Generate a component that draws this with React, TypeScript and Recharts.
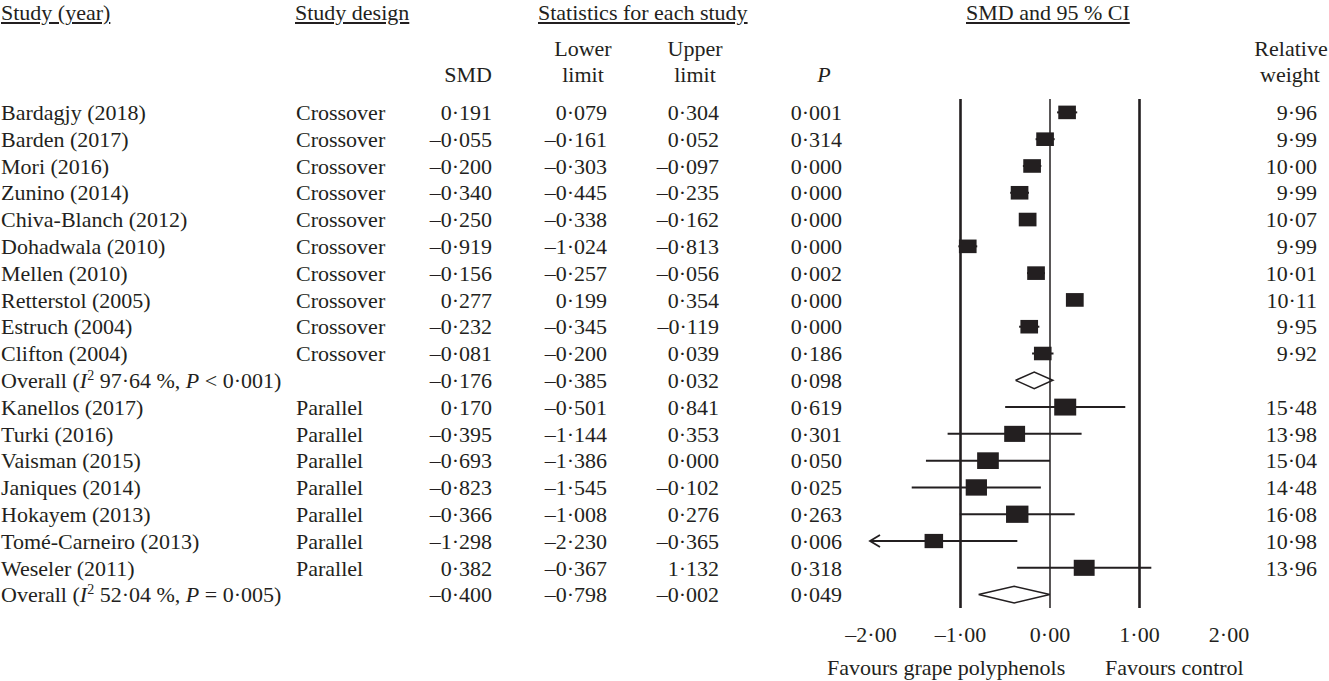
import React from 'react';
import { ScatterChart, Scatter, XAxis, YAxis, ErrorBar, ReferenceLine } from 'recharts';

const FONT = '"Liberation Serif", "Times New Roman", serif';
const INK = '#231f20';
const FS = 22;

const studyNames = [
  'Bardagjy (2018)', 'Barden (2017)', 'Mori (2016)', 'Zunino (2014)', 'Chiva-Blanch (2012)',
  'Dohadwala (2010)', 'Mellen (2010)', 'Retterstol (2005)', 'Estruch (2004)', 'Clifton (2004)',
  'Overall', 'Kanellos (2017)', 'Turki (2016)', 'Vaisman (2015)', 'Janiques (2014)',
  'Hokayem (2013)', 'Tomé-Carneiro (2013)', 'Weseler (2011)', 'Overall',
];
const designs = [
  'Crossover', 'Crossover', 'Crossover', 'Crossover', 'Crossover', 'Crossover', 'Crossover',
  'Crossover', 'Crossover', 'Crossover', '', 'Parallel', 'Parallel', 'Parallel', 'Parallel',
  'Parallel', 'Parallel', 'Parallel', '',
];
const smd = [0.191, -0.055, -0.2, -0.34, -0.25, -0.919, -0.156, 0.277, -0.232, -0.081, -0.176,
  0.17, -0.395, -0.693, -0.823, -0.366, -1.298, 0.382, -0.4];
const lower = [0.079, -0.161, -0.303, -0.445, -0.338, -1.024, -0.257, 0.199, -0.345, -0.2, -0.385,
  -0.501, -1.144, -1.386, -1.545, -1.008, -2.23, -0.367, -0.798];
const upper = [0.304, 0.052, -0.097, -0.235, -0.162, -0.813, -0.056, 0.354, -0.119, 0.039, 0.032,
  0.841, 0.353, 0.0, -0.102, 0.276, -0.365, 1.132, -0.002];
const pValues = [0.001, 0.314, 0.0, 0.0, 0.0, 0.0, 0.002, 0.0, 0.0, 0.186, 0.098,
  0.619, 0.301, 0.05, 0.025, 0.263, 0.006, 0.318, 0.049];
const weights: (number | null)[] = [9.96, 9.99, 10.0, 9.99, 10.07, 9.99, 10.01, 10.11, 9.95, 9.92, null,
  15.48, 13.98, 15.04, 14.48, 16.08, 10.98, 13.96, null];
const overallI2 = ['97·64', '52·04'];
const overallP = ['< 0·001', '= 0·005'];

const xTicks = [-2, -1, 0, 1, 2];
const xTickLabels = ['–2·00', '–1·00', '0·00', '1·00', '2·00'];
const XMIN = -2;
const XMAX = 2;

const rowIdx = studyNames.map((_, i) => i);
const overallRows = rowIdx.filter((i) => weights[i] == null);

const fmt = (v: number, d: number) => (v < 0 ? '–' : '') + Math.abs(v).toFixed(d).replace('.', '·');

const studyPoints = rowIdx
  .filter((i) => weights[i] != null)
  .map((i) => ({
    x: smd[i],
    y: i,
    w: weights[i] as number,
    err: [smd[i] - Math.max(lower[i], XMIN), upper[i] - smd[i]],
  }));
const arrowPoints = rowIdx
  .filter((i) => weights[i] != null && lower[i] < XMIN)
  .map((i) => ({ x: XMIN, y: i }));
const DIAMOND_HALF = 0.31;
const diamonds = overallRows.map((i) => [
  { x: lower[i], y: i },
  { x: smd[i], y: i - DIAMOND_HALF },
  { x: upper[i], y: i },
  { x: smd[i], y: i + DIAMOND_HALF },
  { x: lower[i], y: i },
]);

const Square = (p: any) => {
  const h = 4.3 * Math.sqrt(p.payload.w);
  const w = h * 1.3;
  return <rect x={p.cx - w / 2} y={p.cy - h / 2} width={w} height={h} fill={INK} />;
};
const Arrow = (p: any) => (
  <path d={`M${p.cx + 9},${p.cy - 6} L${p.cx - 1},${p.cy} L${p.cx + 9},${p.cy + 6}`} stroke={INK} strokeWidth={1.8} fill="none" />
);
const Nothing = () => <g />;

const RowTick = (props: any) => {
  const i = props.payload.value as number;
  const y = props.y;
  const common = { fontFamily: FONT, fontSize: FS, fill: INK, dy: '0.35em' } as any;
  const oi = overallRows.indexOf(i);
  return (
    <g>
      {oi >= 0 ? (
        <text x={1} y={y} {...common}>
          Overall (<tspan fontStyle="italic">I</tspan>
          <tspan dy={-8} fontSize={14}>2</tspan>
          <tspan dy={8}>{` ${overallI2[oi]} %, `}</tspan>
          <tspan fontStyle="italic">P</tspan>
          {` ${overallP[oi]})`}
        </text>
      ) : (
        <text x={1} y={y} {...common}>{studyNames[i]}</text>
      )}
      <text x={296} y={y} {...common}>{designs[i]}</text>
      <text x={492} y={y} textAnchor="end" {...common}>{fmt(smd[i], 3)}</text>
      <text x={607} y={y} textAnchor="end" {...common}>{fmt(lower[i], 3)}</text>
      <text x={719} y={y} textAnchor="end" {...common}>{fmt(upper[i], 3)}</text>
      <text x={842} y={y} textAnchor="end" {...common}>{fmt(pValues[i], 3)}</text>
      {weights[i] != null && (
        <text x={1317} y={y} textAnchor="end" {...common}>{fmt(weights[i] as number, 2)}</text>
      )}
    </g>
  );
};

const Label = ({ cx, left, right, cy, children, underline, italic }: any) => {
  const style: React.CSSProperties = {
    position: 'absolute',
    top: cy - 13,
    lineHeight: '26px',
    fontFamily: FONT,
    fontSize: FS,
    color: INK,
    whiteSpace: 'nowrap',
    textDecoration: underline ? 'underline' : 'none',
    fontStyle: italic ? 'italic' : 'normal',
  };
  if (cx != null) {
    style.left = cx - 150;
    style.width = 300;
    style.textAlign = 'center';
  } else if (right != null) {
    style.left = right - 300;
    style.width = 300;
    style.textAlign = 'right';
  } else {
    style.left = left;
  }
  return <div style={style}>{children}</div>;
};

export default function App() {
  return (
    <div style={{ position: 'absolute', left: 0, top: 0, width: 1329, height: 681, background: '#fff' }}>
      <ScatterChart width={1329} height={681} margin={{ top: 99, right: 100, bottom: 43, left: 0 }}>
        <XAxis
          type="number"
          dataKey="x"
          domain={[XMIN, XMAX]}
          ticks={xTicks}
          interval={0}
          axisLine={false}
          tickLine={false}
          tickSize={6}
          tickMargin={12}
          height={30}
          tickFormatter={(v: number) => xTickLabels[xTicks.indexOf(v)]}
          tick={{ fontFamily: FONT, fontSize: FS, fill: INK }}
        />
        <YAxis
          type="number"
          dataKey="y"
          domain={[-0.5, 18.5]}
          reversed
          ticks={rowIdx}
          interval={0}
          width={871}
          axisLine={false}
          tickLine={false}
          tick={<RowTick />}
        />
        <ReferenceLine x={-1} stroke={INK} strokeWidth={2.6} />
        <ReferenceLine x={0} stroke={INK} strokeWidth={1.5} />
        <ReferenceLine x={1} stroke={INK} strokeWidth={2.6} />
        <Scatter data={studyPoints} shape={Square} fill={INK} isAnimationActive={false}>
          <ErrorBar dataKey="err" direction="x" width={0} stroke={INK} strokeWidth={2} isAnimationActive={false} />
        </Scatter>
        <Scatter data={arrowPoints} shape={Arrow} isAnimationActive={false} />
        {diamonds.map((d, k) => (
          <Scatter
            key={k}
            data={d}
            shape={Nothing}
            line={{ stroke: INK, strokeWidth: 1.5 }}
            lineType="joint"
            fill="#fff"
            isAnimationActive={false}
          />
        ))}
      </ScatterChart>
      <Label left={1} cy={13} underline>Study (year)</Label>
      <Label left={295} cy={13} underline>Study design</Label>
      <Label left={538} cy={13} underline>Statistics for each study</Label>
      <Label left={966} cy={13} underline>SMD and 95 % CI</Label>
      <Label right={492} cy={75}>SMD</Label>
      <Label cx={583} cy={49}>Lower</Label>
      <Label cx={583} cy={75}>limit</Label>
      <Label cx={695} cy={49}>Upper</Label>
      <Label cx={695} cy={75}>limit</Label>
      <Label cx={824} cy={75} italic>P</Label>
      <Label cx={1291} cy={49}>Relative</Label>
      <Label cx={1290} cy={75}>weight</Label>
      <Label left={827} cy={668}>Favours grape polyphenols</Label>
      <Label left={1105} cy={668}>Favours control</Label>
    </div>
  );
}
